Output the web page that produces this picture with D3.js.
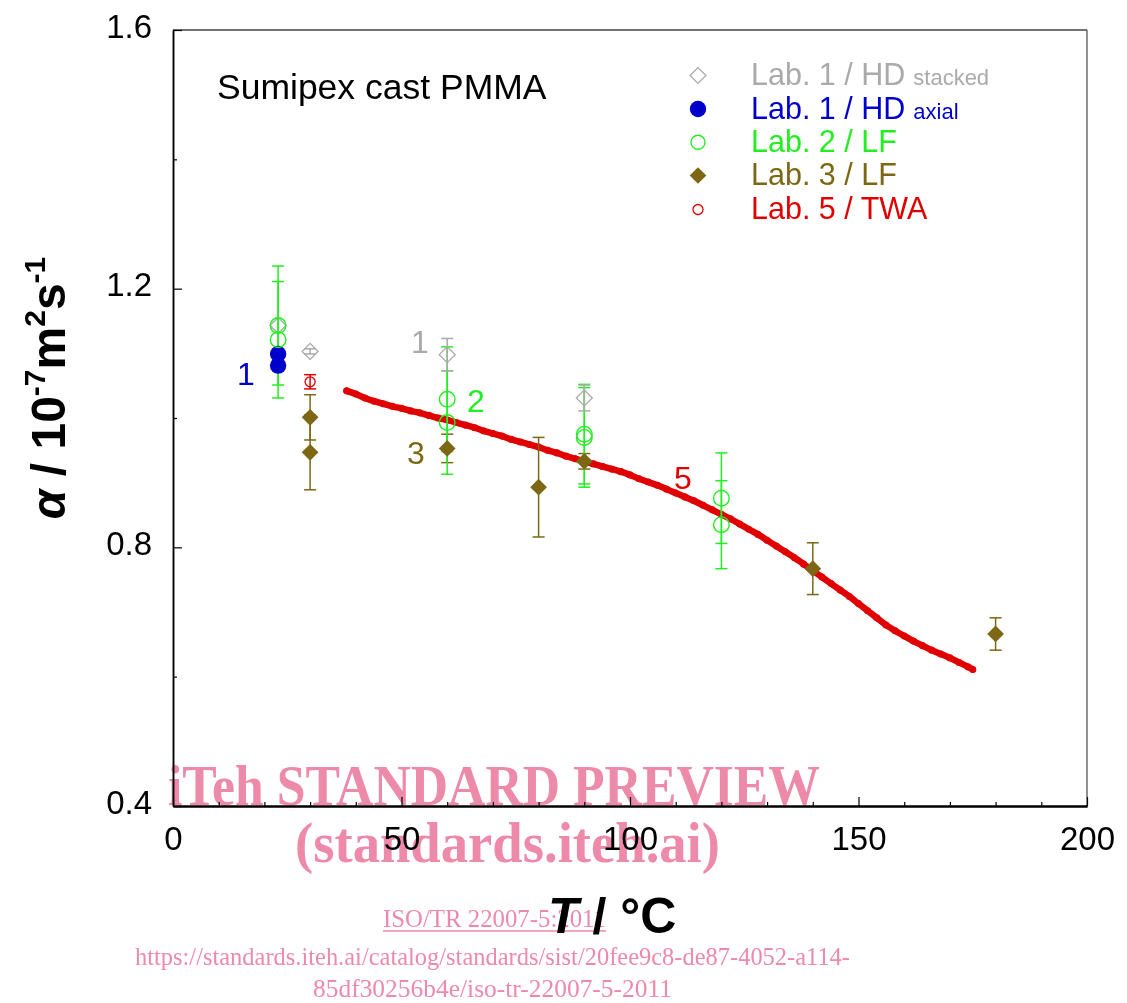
<!DOCTYPE html>
<html>
<head>
<meta charset="utf-8">
<script src="https://cdn.jsdelivr.net/npm/d3@7"></script>
<style>
  html, body { margin: 0; padding: 0; background: #fff; }
  svg { display: block; font-family: "Liberation Sans", Arial, sans-serif; }
</style>
</head>
<body>
<svg id="chart" width="1127" height="1003"></svg>
<script>
// ---------------- data ----------------
const xDomain = [0, 200];
const yDomain = [0.4, 1.6];
const xTickLabels = [0, 50, 100, 150, 200];
const yTickLabels = [0.4, 0.8, 1.2, 1.6];

// Lab. 1 / HD stacked (grey open diamonds)
const lab1sT   = [23, 30, 60, 90];
const lab1sA   = [1.143, 1.103, 1.098, 1.031];
const lab1sErr = [0, 0.004, 0.025, 0.02];

// Lab. 1 / HD axial (blue filled circles)
const lab1aT = [23, 23];
const lab1aA = [1.099, 1.081];

// Lab. 2 / LF (green open circles)
const lab2T   = [23, 23, 60, 60, 90, 90, 120, 120];
const lab2A   = [1.143, 1.121, 1.029, 0.993, 0.975, 0.970, 0.876, 0.835];
const lab2Err = [0.092, 0.09, 0.081, 0.08, 0.077, 0.077, 0.07, 0.068];

// Lab. 3 / LF (olive filled diamonds)
const lab3T   = [30, 30, 60, 80, 90, 140, 180];
const lab3A   = [1.001, 0.947, 0.953, 0.893, 0.933, 0.767, 0.666];
const lab3Err = [0.035, 0.058, 0.022, 0.077, 0.012, 0.04, 0.025];

// Lab. 5 / TWA single point with error bar
const lab5pT = [30];
const lab5pA = [1.056];
const lab5pErr = [0.011];

// Lab. 5 / TWA continuous measurement (red small circles)
const lab5T = [38,40,42,44,46,48,50,52,54,56,58,60,62,64,66,68,70,72,74,76,78,80,82,84,86,88,90,
  92,94,96,98,100,102,104,106,108,110,112,114,116,118,120,122,124,126,128,130,132,134,136,138,140,
  142,144,146,148,150,152,154,156,158,160,162,164,166,168,170,172,174,175];
const lab5A = [1.042,1.037,1.031,1.026,1.022,1.018,1.015,1.011,1.008,1.004,1.000,0.997,0.993,0.989,
  0.985,0.980,0.976,0.972,0.967,0.963,0.959,0.955,0.950,0.946,0.941,0.937,0.933,0.929,0.925,0.921,
  0.917,0.912,0.906,0.901,0.896,0.890,0.884,0.878,0.872,0.865,0.858,0.851,0.844,0.836,0.828,0.820,
  0.811,0.802,0.793,0.784,0.774,0.764,0.754,0.744,0.734,0.724,0.713,0.702,0.691,0.680,0.671,0.663,
  0.655,0.648,0.641,0.635,0.629,0.622,0.615,0.611];

const legendLabels = ["Lab. 1 / HD", "Lab. 1 / HD", "Lab. 2 / LF", "Lab. 3 / LF", "Lab. 5 / TWA"];
const legendSuffix = ["stacked", "axial", "", "", ""];

// ---------------- styles ----------------
const C_GREY = "#aaaaaa", C_BLUE = "#0000cc", C_GREEN = "#22ee22", C_OLIVE = "#7d6714", C_RED = "#e00000";

const svg = d3.select("#chart");
const L = 173, R = 1087, T = 30, B = 806;
const x = d3.scaleLinear().domain(xDomain).range([L, R]);
const y = d3.scaleLinear().domain(yDomain).range([B, T]);

// frame: top/right grey, left/bottom black
svg.append("line").attr("x1", L).attr("x2", R).attr("y1", T).attr("y2", T).attr("stroke", "#444").attr("stroke-width", 1.3);
svg.append("line").attr("x1", R).attr("x2", R).attr("y1", T).attr("y2", B).attr("stroke", "#555").attr("stroke-width", 1.3);

// axes
const xAxis = d3.axisBottom(x).tickValues(xTickLabels).tickSize(-9).tickSizeOuter(0).tickPadding(21).tickFormat(d3.format("d"));
const xMinor = d3.axisBottom(x).tickValues(d3.range(0, 201, 10).filter(v => v % 50 !== 0)).tickSize(-4).tickSizeOuter(0).tickFormat("");
const yAxis = d3.axisLeft(y).tickValues(yTickLabels).tickSize(-9).tickSizeOuter(0).tickPadding(21).tickFormat(d3.format(".1f"));
const yMinor = d3.axisLeft(y).tickValues([0.6, 1.0, 1.4]).tickSize(-4).tickSizeOuter(0).tickFormat("");

function styleAxis(g, w) {
  g.select(".domain").attr("stroke", "#000").attr("stroke-width", w);
  g.selectAll(".tick line").attr("stroke", "#000").attr("stroke-width", 1.2);
  g.selectAll(".tick text").attr("font-size", 33).attr("fill", "#000").attr("font-family", "Liberation Sans, Arial, sans-serif");
}
svg.append("g").attr("transform", `translate(0,${B})`).call(xMinor).call(g => styleAxis(g, 2));
svg.append("g").attr("transform", `translate(0,${B})`).call(xAxis).call(g => styleAxis(g, 2));
svg.append("g").attr("transform", `translate(${L},0)`).call(yMinor).call(g => styleAxis(g, 1.5));
svg.append("g").attr("transform", `translate(${L},0)`).call(yAxis).call(g => styleAxis(g, 1.5))
  .selectAll(".tick text").attr("dy", "0.22em");

// helpers
const diamond = (size) => d3.symbol().type(d3.symbolSquare).size(size)();
function errorBars(g, Ts, As, Es, color, cap) {
  Ts.forEach((t, i) => {
    if (!Es[i]) return;
    const cx = x(t), y1 = y(As[i] + Es[i]), y2 = y(As[i] - Es[i]);
    g.append("line").attr("x1", cx).attr("x2", cx).attr("y1", y1).attr("y2", y2).attr("stroke", color).attr("stroke-width", 1.5);
    [y1, y2].forEach(yy => g.append("line").attr("x1", cx - cap).attr("x2", cx + cap).attr("y1", yy).attr("y2", yy)
      .attr("stroke", color).attr("stroke-width", 1.5));
  });
}

const plot = svg.append("g");

// Lab 5 continuous curve (drawn first / underneath)
const curvePts = lab5T.map((t, i) => [t, lab5A[i]]);
plot.append("path").datum(curvePts)
  .attr("d", d3.line().x(d => x(d[0])).y(d => y(d[1])).curve(d3.curveMonotoneX))
  .attr("fill", "none").attr("stroke", C_RED).attr("stroke-width", 6.5).attr("stroke-linecap", "round");
plot.selectAll("circle.c5").data(curvePts).join("circle").attr("class", "c5")
  .attr("cx", d => x(d[0])).attr("cy", d => y(d[1])).attr("r", 3)
  .attr("fill", "none").attr("stroke", C_RED).attr("stroke-width", 1.1);

// error bars
errorBars(plot, lab3T, lab3A, lab3Err, C_OLIVE, 6);
errorBars(plot, lab2T, lab2A, lab2Err, C_GREEN, 6);
errorBars(plot, lab1sT, lab1sA, lab1sErr, C_GREY, 6);
errorBars(plot, lab5pT, lab5pA, lab5pErr, C_RED, 6);

lab3T.forEach((t, i) => plot.append("path").attr("d", diamond(140))
  .attr("transform", `translate(${x(t)},${y(lab3A[i])}) rotate(45)`).attr("fill", C_OLIVE));

lab1sT.forEach((t, i) => plot.append("path").attr("d", diamond(128))
  .attr("transform", `translate(${x(t)},${y(lab1sA[i])}) rotate(45)`).attr("fill", "none").attr("stroke", C_GREY).attr("stroke-width", 1.3));

lab1aT.forEach((t, i) => plot.append("circle").attr("cx", x(t)).attr("cy", y(lab1aA[i])).attr("r", 8.2).attr("fill", C_BLUE));

lab2T.forEach((t, i) => plot.append("circle").attr("cx", x(t)).attr("cy", y(lab2A[i])).attr("r", 7.8)
  .attr("fill", "none").attr("stroke", C_GREEN).attr("stroke-width", 1.4));

lab5pT.forEach((t, i) => plot.append("circle").attr("cx", x(t)).attr("cy", y(lab5pA[i])).attr("r", 5)
  .attr("fill", "none").attr("stroke", C_RED).attr("stroke-width", 1.3));

// lab number annotations
const notes = [
  { t: "1", x: 246, y: 385, c: C_BLUE },
  { t: "1", x: 420, y: 353, c: C_GREY },
  { t: "2", x: 476, y: 412, c: C_GREEN },
  { t: "3", x: 416, y: 464, c: C_OLIVE },
  { t: "5", x: 683, y: 489, c: C_RED }
];
notes.forEach(n => svg.append("text").attr("x", n.x).attr("y", n.y).attr("text-anchor", "middle")
  .attr("font-size", 32).attr("fill", n.c).text(n.t));

// chart label
svg.append("text").attr("x", 217).attr("y", 99).attr("font-size", 35.5).attr("fill", "#000").text("Sumipex cast PMMA");

// legend
const legColors = [C_GREY, C_BLUE, C_GREEN, C_OLIVE, C_RED];
const legBase = [85, 118.5, 151.7, 185, 219];
const mx = 698;
legBase.forEach((b, i) => {
  const cy = b - 9.5;
  if (i === 0) svg.append("path").attr("d", diamond(125)).attr("transform", `translate(${mx},${cy}) rotate(45)`)
    .attr("fill", "none").attr("stroke", C_GREY).attr("stroke-width", 1.3);
  if (i === 1) svg.append("circle").attr("cx", mx).attr("cy", cy).attr("r", 8.2).attr("fill", C_BLUE);
  if (i === 2) svg.append("circle").attr("cx", mx).attr("cy", cy).attr("r", 7).attr("fill", "none").attr("stroke", C_GREEN).attr("stroke-width", 1.4);
  if (i === 3) svg.append("path").attr("d", diamond(138)).attr("transform", `translate(${mx},${cy}) rotate(45)`).attr("fill", C_OLIVE);
  if (i === 4) svg.append("circle").attr("cx", mx).attr("cy", cy).attr("r", 5).attr("fill", "none").attr("stroke", C_RED).attr("stroke-width", 1.3);
  const tx = svg.append("text").attr("x", 751).attr("y", b).attr("font-size", 30.5).attr("fill", legColors[i]);
  tx.append("tspan").text(legendLabels[i]);
  if (legendSuffix[i]) tx.append("tspan").attr("font-size", 22).attr("dx", 8).text(legendSuffix[i]);
});

// axis titles
const xt = svg.append("text").attr("x", 548).attr("y", 933).attr("font-size", 50).attr("font-weight", "bold").attr("fill", "#000");
xt.append("tspan").attr("font-style", "italic").text("T");
xt.append("tspan").text(" / °C");

const yt = svg.append("text").attr("transform", "translate(65,388) rotate(-90)").attr("text-anchor", "middle")
  .attr("font-size", 48).attr("font-weight", "bold").attr("fill", "#000");
yt.append("tspan").attr("font-style", "italic").text("α");
yt.append("tspan").text(" / 10");
yt.append("tspan").attr("font-size", 30).attr("dy", -20).text("-7");
yt.append("tspan").attr("dy", 20).text("m");
yt.append("tspan").attr("font-size", 30).attr("dy", -20).text("2");
yt.append("tspan").attr("dy", 20).text("s");
yt.append("tspan").attr("font-size", 30).attr("dy", -20).text("-1");

// watermark text (present in the reference image)
const wm = svg.append("g").style("mix-blend-mode", "multiply").attr("fill", "#ee8aa9")
  .attr("font-family", "Liberation Serif, Times New Roman, serif");
wm.append("text").attr("x", 168).attr("y", 805).attr("font-size", 56).attr("font-weight", "bold")
  .attr("textLength", 652).attr("lengthAdjust", "spacingAndGlyphs").text("iTeh STANDARD PREVIEW");
wm.append("text").attr("x", 295).attr("y", 862).attr("font-size", 56).attr("font-weight", "bold")
  .attr("textLength", 425).attr("lengthAdjust", "spacingAndGlyphs").text("(standards.iteh.ai)");
wm.append("text").attr("x", 383).attr("y", 927).attr("font-size", 26)
  .attr("textLength", 223).attr("lengthAdjust", "spacingAndGlyphs").text("ISO/TR 22007-5:2011");
wm.append("line").attr("x1", 383).attr("x2", 606).attr("y1", 931).attr("y2", 931).attr("stroke", "#ee8aa9").attr("stroke-width", 1.5);
wm.append("text").attr("x", 135).attr("y", 965).attr("font-size", 26)
  .attr("textLength", 715).attr("lengthAdjust", "spacingAndGlyphs").text("https://standards.iteh.ai/catalog/standards/sist/20fee9c8-de87-4052-a114-");
wm.append("text").attr("x", 313).attr("y", 997).attr("font-size", 26)
  .attr("textLength", 359).attr("lengthAdjust", "spacingAndGlyphs").text("85df30256b4e/iso-tr-22007-5-2011");
</script>
</body>
</html>
